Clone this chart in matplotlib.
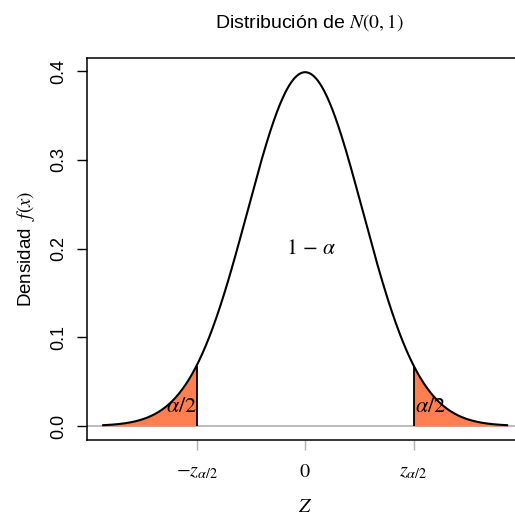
import numpy as np
import matplotlib
matplotlib.use("Agg")
import matplotlib.pyplot as plt

plt.rcParams['font.family'] = ['Liberation Sans', 'DejaVu Sans']
plt.rcParams['mathtext.fontset'] = 'stix'

# datos
x_lim = (-3.5, 3.5)
z_crit = 1.88
y_ticks = [0.0, 0.1, 0.2, 0.3, 0.4]
y_ticklabels = ["0.0", "0.1", "0.2", "0.3", "0.4"]
x_ticks = [-z_crit, 0, z_crit]
x_ticklabels = [r"$-z_{\alpha/2}$", r"$0$", r"$z_{\alpha/2}$"]

x = np.linspace(x_lim[0], x_lim[1], 600)
dens = np.exp(-x ** 2 / 2) / np.sqrt(2 * np.pi)
dens_z = np.exp(-z_crit ** 2 / 2) / np.sqrt(2 * np.pi)

fig = plt.figure(figsize=(5.15, 5.13), dpi=100)
ax = fig.add_axes([0.169, 0.142, 0.847, 0.745])

ax.axhline(0, color='#b0b0b0', lw=1.2, zorder=1)
lo = x <= -z_crit
hi = x >= z_crit
ax.fill_between(np.append(x[lo], -z_crit), 0, np.append(dens[lo], dens_z),
                color='coral', lw=0, zorder=2)
ax.fill_between(np.insert(x[hi], 0, z_crit), 0, np.insert(dens[hi], 0, dens_z),
                color='coral', lw=0, zorder=2)
ax.vlines([-z_crit, z_crit], 0, dens_z, color='black', lw=1.3, zorder=3)
ax.plot(x, dens, color='black', lw=1.5, zorder=4)

ax.text(-2.15, 0.022, r"$\alpha/2$", ha='center', va='center', fontsize=16)
ax.text(2.17, 0.022, r"$\alpha/2$", ha='center', va='center', fontsize=16)
ax.text(0.1, 0.2, r"$1\,-\,\alpha$", ha='center', va='center', fontsize=15.5)

rng = x_lim[1] - x_lim[0]
ax.set_xlim(x_lim[0] - 0.04 * rng, x_lim[1] + 0.04 * rng)
ax.set_ylim(-0.016, 0.415)

ax.set_yticks(y_ticks)
ax.set_yticklabels(y_ticklabels, rotation=90, va='center', fontsize=13)
ax.set_xticks(x_ticks)
ax.set_xticklabels(x_ticklabels, fontsize=14.5)
ax.tick_params(axis='y', length=7, width=1, pad=7)
ax.tick_params(axis='x', length=7, width=1, color='#b0b0b0', pad=9)
for s in ax.spines.values():
    s.set_linewidth(1.1)

ax.set_ylabel(r"Densidad $\ f(x)$", fontsize=13.5, labelpad=10)
ax.set_xlabel(r"$Z$", fontsize=14.5, labelpad=11)
fig.text(0.6, 0.957, r"Distribución de $N(0,1)$", ha='center', va='center', fontsize=14)

fig.savefig("out.png", dpi=100)
